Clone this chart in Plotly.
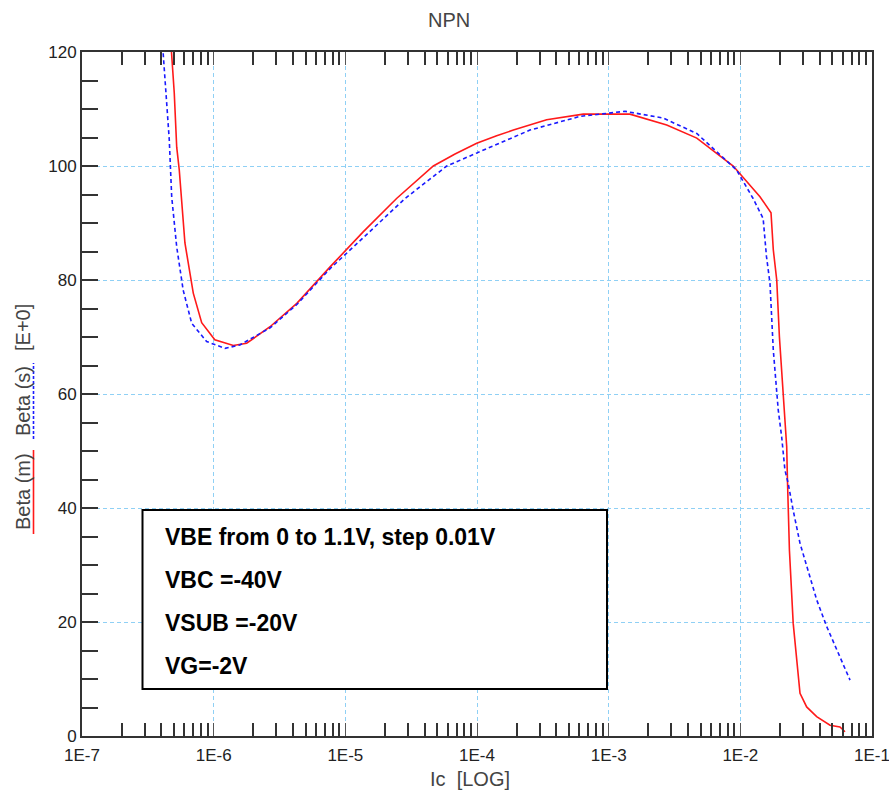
import plotly.graph_objects as go

# ---- data ----
ic_m = [4.75e-7, 5.02e-7, 5.24e-7, 5.48e-7, 6.05e-7, 7.0e-7, 8.11e-7, 1.02e-6, 1.41e-6,
        1.78e-6, 2.68e-6, 4.28e-6, 7.66e-6, 1.36e-5, 2.45e-5, 4.66e-5, 6.81e-5, 9.95e-5,
        1.41e-4, 1.89e-4, 3.38e-4, 6.41e-4, 1.45e-3, 2.76e-3, 4.67e-3, 8.83e-3, 1.41e-2,
        1.71e-2, 1.78e-2, 1.89e-2, 1.98e-2, 2.12e-2, 2.25e-2, 2.28e-2, 2.36e-2, 2.52e-2,
        2.71e-2, 2.84e-2, 3.19e-2, 3.80e-2, 4.80e-2, 5.71e-2, 6.24e-2]
beta_m = [121, 112.8, 103.3, 99.3, 86.5, 77.7, 72.5, 69.5, 68.5,
          68.9, 71.8, 75.9, 82.3, 88.4, 94.3, 100.0, 102.1, 104.0,
          105.3, 106.3, 108.1, 109.1, 109.1, 107.2, 104.9, 100.0, 94.6,
          91.8, 85.3, 80.0, 70.1, 60.1, 50.8, 44.9, 32.6, 19.8,
          12.2, 7.5, 5.1, 3.4, 1.9, 1.6, 0.75]

ic_s = [4.10e-7, 4.40e-7, 4.60e-7, 4.80e-7, 5.24e-7, 5.87e-7, 6.81e-7, 8.85e-7, 1.22e-6,
        1.58e-6, 2.68e-6, 4.28e-6, 7.66e-6, 1.41e-5, 2.84e-5, 5.89e-5, 1.05e-4, 2.52e-4,
        6.05e-4, 1.33e-3, 2.60e-3, 4.67e-3, 9.37e-3, 1.25e-2, 1.49e-2, 1.58e-2, 1.68e-2,
        1.78e-2, 1.94e-2, 2.06e-2, 2.18e-2, 2.31e-2, 2.52e-2, 2.84e-2, 3.38e-2, 3.80e-2,
        4.53e-2, 5.40e-2, 6.81e-2]
beta_s = [121, 109.8, 104.6, 94.6, 85.8, 78.2, 72.4, 69.2, 68.0,
          68.6, 71.6, 75.7, 82.0, 87.7, 94.3, 100.0, 102.5, 106.3,
          108.7, 109.6, 108.4, 105.7, 99.3, 94.3, 90.8, 84.1, 79.4,
          67.7, 57.2, 52.5, 46.7, 44.3, 39.6, 33.8, 27.9, 23.9,
          19.2, 15.1, 9.8]

x_exponents = [-7, -6, -5, -4, -3, -2, -1]
x_ticktext = ["1E-7", "1E-6", "1E-5", "1E-4", "1E-3", "1E-2", "1E-1"]
y_tickvals = [0, 20, 40, 60, 80, 100, 120]

box_lines = ["VBE from 0 to 1.1V, step 0.01V", "VBC =-40V", "VSUB =-20V", "VG=-2V"]

# ---- figure ----
W, H = 889, 793
L, R, T, B = 82, 17, 52, 57
pw, ph = W - L - R, H - T - B

def px(xp):  # pixel x -> paper
    return (xp - L) / pw

def py(yp):  # pixel y -> paper
    return (H - B - yp) / ph

FONT = "Liberation Sans, Arial, sans-serif"
AX = "#333333"
GRID = "#8fd0f5"

fig = go.Figure()
fig.add_trace(go.Scatter(x=ic_m, y=beta_m, mode="lines", name="Beta (m)",
                         line=dict(color="#ff1a1a", width=1.6)))
fig.add_trace(go.Scatter(x=ic_s, y=beta_s, mode="lines", name="Beta (s)",
                         line=dict(color="#1a1aff", width=1.6, dash="4px,3px")))

x_major = [10.0 ** e for e in x_exponents]
x_minor = [m * 10.0 ** e for e in x_exponents[:-1] for m in range(2, 10)]
y_minor = [v for v in range(5, 120, 5) if v % 20 != 0]

fig.update_layout(
    width=W, height=H,
    margin=dict(l=L, r=R, t=T, b=B, autoexpand=False),
    paper_bgcolor="white", plot_bgcolor="white",
    showlegend=False,
    font=dict(family=FONT, color="#222222"),
    xaxis=dict(type="log", range=[-7, -0.99999], tickmode="array",
               tickvals=x_major, ticktext=x_ticktext, automargin=False,
               ticks="inside", ticklen=13, tickwidth=1.2, tickcolor="#555555",
               showline=True, linecolor=AX, linewidth=2, mirror="ticks",
               showgrid=True, gridcolor=GRID, gridwidth=1, griddash="4px,3px",
               zeroline=False, tickfont=dict(size=17, color="#222222"),
               ticklabeloverflow="allow", ticklabelstandoff=3,
               minor=dict(tickmode="array", tickvals=x_minor, ticks="inside",
                          ticklen=13, tickwidth=2, tickcolor=AX, showgrid=False)),
    yaxis=dict(range=[0, 120], tickmode="array", tickvals=y_tickvals, automargin=False,
               ticks="inside", ticklen=16, tickwidth=2, tickcolor=AX,
               showline=True, linecolor=AX, linewidth=2, mirror=True,
               showgrid=True, gridcolor=GRID, gridwidth=1, griddash="4px,3px",
               zeroline=False, tickfont=dict(size=17, color="#222222"),
               minor=dict(tickmode="array", tickvals=y_minor, ticks="inside",
                          ticklen=16, tickwidth=2, tickcolor=AX, showgrid=False)),
)

ann = []
# title
ann.append(dict(text="NPN", x=px(449), y=py(20), xref="paper", yref="paper",
                showarrow=False, xanchor="center", yanchor="middle",
                font=dict(size=20, color="#444444", family=FONT)))
# x axis title
ann.append(dict(text="Ic\u00a0\u00a0[LOG]", x=px(470), y=py(779), xref="paper", yref="paper",
                showarrow=False, xanchor="center", yanchor="middle",
                font=dict(size=20, color="#444444", family=FONT)))
# y axis title pieces
for txt, yc in [("Beta (m)", 492), ("Beta (s)", 401), ("[E+0]", 328)]:
    ann.append(dict(text=txt, x=px(23), y=py(yc), xref="paper", yref="paper",
                    showarrow=False, xanchor="center", yanchor="middle", textangle=-90,
                    font=dict(size=20, color="#444444", family=FONT)))
# box text
for txt, yc in zip(box_lines, [537, 580, 623, 666]):
    ann.append(dict(text="<b>" + txt + "</b>", x=px(163), y=py(yc), xref="paper", yref="paper",
                    showarrow=False, xanchor="left", yanchor="middle",
                    font=dict(size=23, color="black", family=FONT)))
fig.update_layout(annotations=ann)

shapes = [
    dict(type="rect", xref="paper", yref="paper", x0=px(142.5), x1=px(607),
         y0=py(689), y1=py(510), line=dict(color="black", width=2),
         fillcolor="white", layer="above"),
    dict(type="line", xref="paper", yref="paper", x0=px(33.5), x1=px(33.5),
         y0=py(534), y1=py(450), line=dict(color="#ff1a1a", width=1.6)),
    dict(type="line", xref="paper", yref="paper", x0=px(33.5), x1=px(33.5),
         y0=py(439), y1=py(363), line=dict(color="#1a1aff", width=1.6, dash="3px,2px")),
]
fig.update_layout(shapes=shapes)

fig.write_html("out.html")
